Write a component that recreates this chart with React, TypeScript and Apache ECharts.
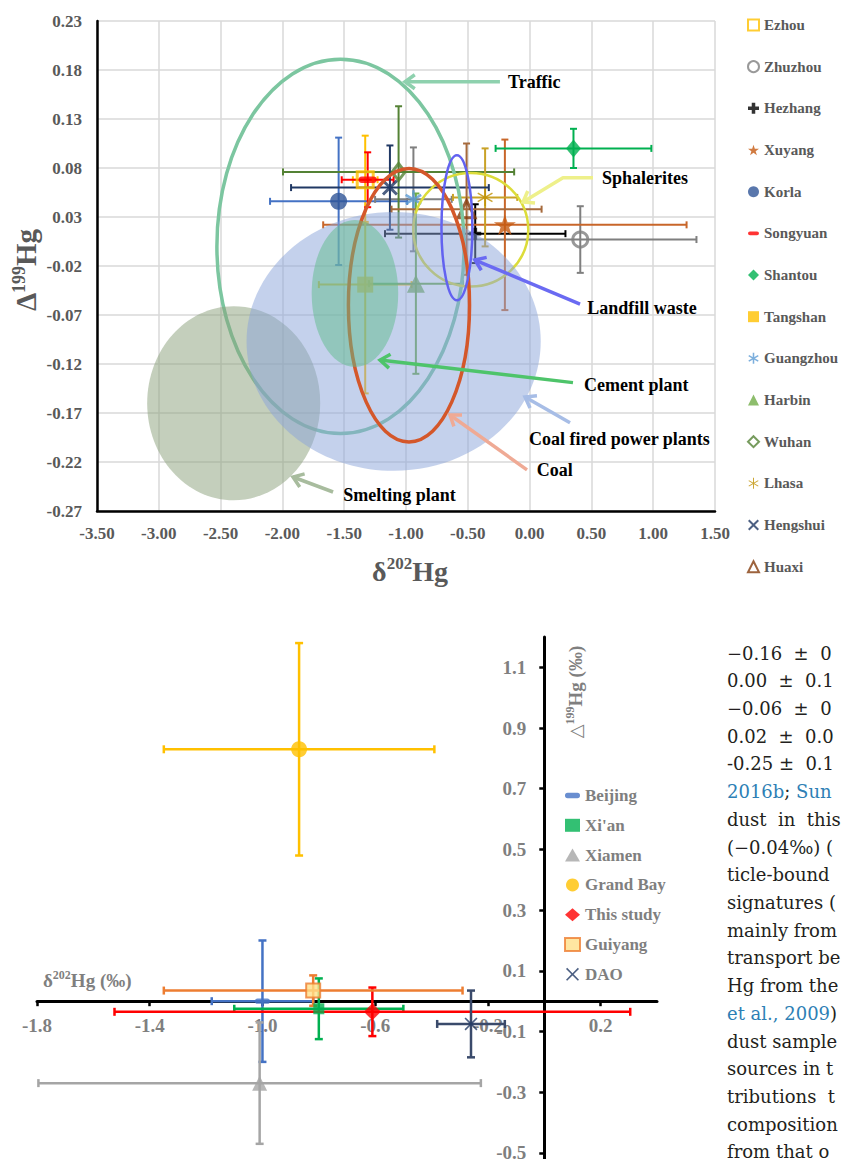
import React, { useEffect, useRef } from 'react';
import * as echarts from 'echarts';

const SERIF = '"Liberation Serif", "Times New Roman", serif';
const TEXT_SERIF = '"DejaVu Serif", serif';

// ================= Upper panel: sites =================
const topSites = ['Ezhou', 'Zhuzhou', 'Hezhang', 'Xuyang', 'Korla', 'Songyuan', 'Shantou', 'Tangshan', 'Guangzhou', 'Harbin', 'Wuhan', 'Lhasa', 'Hengshui', 'Huaxi'];
const topD202 = [-1.33, 0.41, -0.44, -0.20, -1.545, -1.31, 0.355, -1.33, -0.94, -0.92, -1.06, -0.36, -1.13, -0.51];
const topD199 = [0.068, 0.007, 0.013, 0.022, 0.046, 0.068, 0.100, -0.039, 0.048, -0.038, 0.076, 0.050, 0.060, 0.038];
const topD202Err = [0.10, 0.94, 0.73, 1.47, 0.555, 0.21, 0.63, 0.375, 0.31, 0.38, 0.935, 0.26, 0.80, 0.607];
const topD199ErrUp = [0.045, 0.034, 0.030, 0.087, 0.065, 0.028, 0.020, 0.064, 0.053, 0.092, 0.067, 0.050, 0.043, 0.067];
const topD199ErrDown = [0.045, 0.034, 0.030, 0.087, 0.065, 0.028, 0.020, 0.111, 0.053, 0.092, 0.067, 0.050, 0.043, 0.067];

// upper axes
const topXMin = -3.5;
const topXMax = 1.5;
const topXStep = 0.5;
const topYMin = -0.27;
const topYMax = 0.23;
const topYStep = 0.05;

// source fields (ellipses), in drawing order
const sourceNames = ['Traffic', 'Sphalerites', 'Smelting plant', 'Coal fired power plants', 'Coal', 'Landfill waste', 'Cement plant'];
const sourceCx = [-1.53, -0.476, -2.394, -1.10, -0.976, -0.588, -1.413];
const sourceCy = [0.0, 0.017, -0.160, -0.097, -0.060, 0.019, -0.048];
const sourceRx = [1.0, 0.465, 0.70, 1.19, 0.49, 0.125, 0.35];
const sourceRy = [0.191, 0.058, 0.099, 0.132, 0.1395, 0.074, 0.075];

// annotation labels and arrows (data coordinates)
const annoLabels = ['Traffic', 'Sphalerites', 'Landfill waste', 'Cement plant', 'Coal fired power plants', 'Coal', 'Smelting plant'];
const annoLabelAt = [[-0.175, 0.168], [0.586, 0.070], [0.467, -0.063], [0.44, -0.1414], [-0.005, -0.197], [0.057, -0.228], [-1.507, -0.2537]];
const annoArrows = [
  [[-0.24, 0.168], [-1.008, 0.168]],
  [[0.513, 0.070], [0.27, 0.070], [-0.053, 0.0453]],
  [[0.408, -0.0588], [-0.442, -0.0139]],
  [[0.351, -0.139], [-1.21, -0.116]],
  [[0.327, -0.180], [-0.037, -0.1537]],
  [[-0.021, -0.228], [-0.644, -0.172]],
  [[-1.59, -0.2506], [-1.914, -0.2353]],
];

// ================= Lower panel =================
const bottomSites = ['Beijing', "Xi'an", 'Xiamen', 'Grand Bay', 'This study', 'Guiyang', 'DAO'];
const bottomD202 = [-1.00, -0.80, -1.01, -0.87, -0.61, -0.82, -0.26];
const bottomD199 = [0.00, -0.025, -0.27, 0.83, -0.035, 0.035, -0.075];
const bottomD202Err = [0.18, 0.30, 0.785, 0.48, 0.915, 0.53, 0.12];
const bottomD199Err = [0.20, 0.10, 0.20, 0.35, 0.08, 0.05, 0.11];
const bottomXTicks = [-1.8, -1.4, -1.0, -0.6, -0.2, 0.2];
const bottomYTicks = [-0.5, -0.3, -0.1, 0.1, 0.3, 0.5, 0.7, 0.9, 1.1];
const bottomXMin = -1.8;
const bottomXMax = 0.4;
const bottomYMin = -0.52;
const bottomYMax = 1.2;

// body text beside the lower panel
const bodyLines = [
  '−0.16  ±  0',
  '0.00  ±  0.1',
  '−0.06  ±  0',
  '0.02  ±  0.0',
  '-0.25 ±  0.1',
  '{l|2016b}; {l|Sun}',
  'dust  in  this',
  '(−0.04‰) (',
  'ticle-bound',
  'signatures (',
  'mainly from',
  'transport be',
  'Hg from the',
  '{l|et al., 2009})',
  'dust sample',
  'sources in t',
  'tributions  t',
  'composition',
  'from that o',
];

// ================= Styles =================
const STAR = 'path://M50,0 L61.8,35.3 L99,35.3 L69,57.1 L80.4,92.7 L50,70.6 L19.6,92.7 L31,57.1 L1,35.3 L38.2,35.3 Z';
const PLUS = 'path://M34,0 H66 V34 H100 V66 H66 V100 H34 V66 H0 V34 H34 Z';
const DASH = 'path://M5,0 H25 A5,5 0 0 1 25,11 H5 A5,5 0 0 1 5,0 Z';
const AST = 'path://M43,0 L57,0 L57,100 L43,100 Z M10.2,81.06 L3.2,68.94 L89.8,18.94 L96.8,31.06 Z M96.8,68.94 L89.8,81.06 L3.2,31.06 L10.2,18.94 Z';
const AST_THIN = 'path://M45.5,0 L54.5,0 L54.5,100 L45.5,100 Z M8.95,78.9 L4.45,71.1 L91.05,21.1 L95.55,28.9 Z M95.55,71.1 L91.05,78.9 L4.45,28.9 L8.95,21.1 Z';
const CROSS = 'path://M0,13 L13,0 L50,37 L87,0 L100,13 L63,50 L100,87 L87,100 L50,63 L13,100 L0,87 L37,50 Z';
const CROSS_THIN = 'path://M0,9 L9,0 L50,41 L91,0 L100,9 L59,50 L100,91 L91,100 L50,59 L9,100 L0,91 L41,50 Z';

const topSymbols = ['rect', 'circle', PLUS, STAR, 'circle', DASH, 'diamond', 'rect', AST, 'triangle', 'diamond', AST_THIN, CROSS, 'triangle'];
const topSizes: any[] = [16, 15, 12, 22, 17, 18, [15, 18], 16, 18, 18, [13, 17], 17, 16, 17];
const topColors = ['#FFC000', '#808080', '#000000', '#C55A11', '#2F5597', '#FF0000', '#00B050', '#FFC000', '#5B9BD5', '#70AD47', '#548235', '#BF9000', '#203864', '#843C0C'];
const topHollow = [true, true, false, false, false, false, false, false, false, false, true, false, false, true];
const topErrColors = ['#FFC000', '#7F7F7F', '#000000', '#C8662A', '#4472C4', '#FF0000', '#00B050', '#FFC000', '#7F7F7F', '#70AD47', '#548235', '#C9A227', '#203864', '#A66A3C'];

const sourceStyles = [
  { fill: 'none', stroke: '#7CC6A0', lineWidth: 3.5 },
  { fill: 'none', stroke: '#DCDC3A', lineWidth: 2.5 },
  { fill: 'rgba(138,160,122,0.5)' },
  { fill: 'rgba(137,163,217,0.5)' },
  { fill: 'none', stroke: '#D4572A', lineWidth: 3.5 },
  { fill: 'none', stroke: '#6262F0', lineWidth: 2.5 },
  { fill: 'rgba(96,188,140,0.5)' },
];
const annoColors = ['#8ED1AE', '#EEF08A', '#6A6AF2', '#4EC46A', '#A7BDE6', '#EFAA95', '#A8BC9E'];

const bottomSymbols = [DASH, 'rect', 'triangle', 'circle', 'diamond', 'rect', CROSS_THIN];
const bottomSizes = [15, 11, 15, 16, 17, 14, 13];
const bottomColors = ['#4472C4', '#00B050', '#A5A5A5', '#FFC000', '#FF0000', '#FFE08A', '#203864'];
const bottomErrColors = ['#4472C4', '#00B050', '#A5A5A5', '#FFC000', '#FF0000', '#ED7D31', '#3A4A6B'];

// layout of panels (pixels)
const topGrid = { left: 97, top: 21, width: 618, height: 490 };
const bottomGrid = { left: 37, top: 637, width: 620, height: 522 };

function errorBarSeries(gi: number, rows: number[][], colors: string[], lw: number, cap: number, z: number) {
  return {
    type: 'custom',
    xAxisIndex: gi,
    yAxisIndex: gi,
    silent: true,
    z,
    encode: { x: 0, y: 1 },
    data: rows,
    renderItem: (params: any, api: any) => {
      const x = api.value(0), y = api.value(1), xe = api.value(2), yu = api.value(3), yd = api.value(4);
      const l = api.coord([x - xe, y]);
      const r = api.coord([x + xe, y]);
      const t = api.coord([x, y + yu]);
      const b = api.coord([x, y - yd]);
      const style = { stroke: colors[params.dataIndex], lineWidth: lw, fill: 'none' };
      const ln = (x1: number, y1: number, x2: number, y2: number) => ({ type: 'line', shape: { x1, y1, x2, y2 }, style });
      return {
        type: 'group',
        children: [
          ln(l[0], l[1], r[0], r[1]),
          ln(l[0], l[1] - cap, l[0], l[1] + cap),
          ln(r[0], r[1] - cap, r[0], r[1] + cap),
          ln(t[0], t[1], b[0], b[1]),
          ln(t[0] - cap, t[1], t[0] + cap, t[1]),
          ln(b[0] - cap, b[1], b[0] + cap, b[1]),
        ],
      };
    },
  };
}

function buildOption() {
  const axisFontTop = { fontFamily: SERIF, fontWeight: 'bold', fontSize: 17, color: '#595959' };
  const axisFontBottom = { fontFamily: SERIF, fontWeight: 'bold', fontSize: 19, color: '#7F7F7F' };

  // where the lower axes cross (zero lines), as axis offsets
  const xZeroFrac = (0 - bottomXMin) / (bottomXMax - bottomXMin);
  const yZeroFrac = (0 - bottomYMin) / (bottomYMax - bottomYMin);
  const yAxisOffset = -xZeroFrac * bottomGrid.width;
  const xAxisOffset = -yZeroFrac * bottomGrid.height;

  const series: any[] = [];
  series.push(
    errorBarSeries(
      0,
      topSites.map((_, i) => [topD202[i], topD199[i], topD202Err[i], topD199ErrUp[i], topD199ErrDown[i]]),
      topErrColors, 2, 3.5, 2,
    ),
  );
  topSites.forEach((name, i) => {
    series.push({
      type: 'scatter',
      name,
      xAxisIndex: 0,
      yAxisIndex: 0,
      silent: true,
      z: 3,
      symbol: topSymbols[i],
      symbolSize: topSizes[i],
      symbolKeepAspect: true,
      data: [[topD202[i], topD199[i]]],
      itemStyle: topHollow[i]
        ? { color: 'rgba(255,255,255,0)', borderColor: topColors[i], borderWidth: 3 }
        : { color: topColors[i] },
    });
  });
  series.push({
    type: 'custom',
    xAxisIndex: 0,
    yAxisIndex: 0,
    silent: true,
    z: 4,
    encode: { x: 0, y: 1 },
    data: sourceNames.map((_, i) => [sourceCx[i], sourceCy[i], sourceRx[i], sourceRy[i]]),
    renderItem: (params: any, api: any) => {
      const c = api.coord([api.value(0), api.value(1)]);
      const s = api.size([api.value(2), api.value(3)]);
      return { type: 'ellipse', shape: { cx: c[0], cy: c[1], rx: s[0], ry: s[1] }, style: sourceStyles[params.dataIndex] };
    },
  });

  series.push(
    errorBarSeries(
      1,
      bottomSites.map((_, i) => [bottomD202[i], bottomD199[i], bottomD202Err[i], bottomD199Err[i], bottomD199Err[i]]),
      bottomErrColors, 2.5, 4, 2,
    ),
  );
  bottomSites.forEach((name, i) => {
    series.push({
      type: 'scatter',
      name,
      xAxisIndex: 1,
      yAxisIndex: 1,
      silent: true,
      z: 3,
      symbol: bottomSymbols[i],
      symbolSize: bottomSizes[i],
      symbolKeepAspect: true,
      data: [[bottomD202[i], bottomD199[i]]],
      itemStyle: name === 'Guiyang'
        ? { color: bottomColors[i], borderColor: '#ED7D31', borderWidth: 2 }
        : { color: bottomColors[i] },
    });
  });

  return {
    animation: false,
    backgroundColor: '#ffffff',
    textStyle: { fontFamily: SERIF },
    grid: [
      { ...topGrid, outerBoundsMode: 'none', containLabel: false },
      { ...bottomGrid, outerBoundsMode: 'none', containLabel: false },
    ],
    xAxis: [
      {
        gridIndex: 0, type: 'value', min: topXMin, max: topXMax, interval: topXStep,
        axisLine: { onZero: false, lineStyle: { color: '#000', width: 2.5 } },
        axisTick: { show: false },
        axisLabel: { ...axisFontTop, margin: 14, formatter: (v: number) => v.toFixed(2) },
        splitLine: { show: true, lineStyle: { color: '#D9D9D9', width: 1.5 } },
      },
      {
        gridIndex: 1, type: 'value', min: bottomXMin, max: bottomXMax,
        position: 'bottom', offset: xAxisOffset,
        axisLine: { onZero: false, lineStyle: { color: '#000', width: 3 } },
        axisTick: { show: true, length: 5, lineStyle: { color: '#000', width: 2.5 }, customValues: bottomXTicks },
        axisLabel: { ...axisFontBottom, margin: 15, customValues: bottomXTicks, formatter: (v: number) => v.toFixed(1) },
        splitLine: { show: false },
      },
    ],
    yAxis: [
      {
        gridIndex: 0, type: 'value', min: topYMin, max: topYMax, interval: topYStep,
        axisLine: { show: true, onZero: false, lineStyle: { color: '#000', width: 2.5 } },
        axisTick: { show: false },
        axisLabel: { ...axisFontTop, margin: 15, formatter: (v: number) => v.toFixed(2) },
        splitLine: { show: true, lineStyle: { color: '#D9D9D9', width: 1.5 } },
      },
      {
        gridIndex: 1, type: 'value', min: bottomYMin, max: bottomYMax,
        position: 'left', offset: yAxisOffset,
        axisLine: { show: true, onZero: false, lineStyle: { color: '#000', width: 3 } },
        axisTick: { show: true, length: 5, lineStyle: { color: '#000', width: 2.5 }, customValues: bottomYTicks },
        axisLabel: { ...axisFontBottom, margin: 18, customValues: bottomYTicks, formatter: (v: number) => v.toFixed(1) },
        splitLine: { show: false },
      },
    ],
    legend: [
      {
        data: topSites,
        orient: 'vertical',
        left: 742,
        top: 12,
        itemWidth: 11,
        itemHeight: 11,
        itemGap: 25.67,
        selectedMode: false,
        textStyle: { fontFamily: SERIF, fontWeight: 'bold', fontSize: 15, color: '#595959', lineHeight: 16 },
      },
      {
        data: bottomSites,
        orient: 'vertical',
        left: 559,
        top: 782,
        itemWidth: 15,
        itemHeight: 13,
        itemGap: 12.8,
        selectedMode: false,
        textStyle: { fontFamily: SERIF, fontWeight: 'bold', fontSize: 17, color: '#7F7F7F', lineHeight: 16 },
      },
    ],
    series,
  };
}

function arrowEls(pts: number[][], color: string) {
  const els: any[] = [];
  els.push({ type: 'polyline', silent: true, z: 10, shape: { points: pts }, style: { stroke: color, lineWidth: 3.5, fill: 'none', lineJoin: 'round' } });
  const t = pts[pts.length - 1];
  const p = pts[pts.length - 2];
  const dx = t[0] - p[0];
  const dy = t[1] - p[1];
  const len = Math.hypot(dx, dy) || 1;
  const ux = dx / len, uy = dy / len;
  const L = 12, a = 0.62;
  const rot = (ang: number) => [t[0] - L * (ux * Math.cos(ang) - uy * Math.sin(ang)), t[1] - L * (ux * Math.sin(ang) + uy * Math.cos(ang))];
  els.push({ type: 'polyline', silent: true, z: 10, shape: { points: [rot(a), t, rot(-a)] }, style: { stroke: color, lineWidth: 3.5, fill: 'none', lineJoin: 'miter' } });
  return els;
}

function buildGraphics(chart: any) {
  const toPx = (p: number[]) => chart.convertToPixel({ xAxisIndex: 0, yAxisIndex: 0 }, p) as number[];
  const toPxB = (p: number[]) => chart.convertToPixel({ xAxisIndex: 1, yAxisIndex: 1 }, p) as number[];
  const els: any[] = [];
  annoLabels.forEach((label, i) => {
    els.push(...arrowEls(annoArrows[i].map(toPx), annoColors[i]));
    const at = toPx(annoLabelAt[i]);
    els.push({
      type: 'text', silent: true, z: 11, x: at[0], y: at[1],
      style: { text: label, fontFamily: SERIF, fontWeight: 'bold', fontSize: 18, fill: '#000', align: 'left', verticalAlign: 'middle' },
    });
  });

  const grayTop = '#595959';
  const grayBottom = '#7F7F7F';
  // upper axis titles
  els.push({
    type: 'text', silent: true, z: 11, x: 410, y: 571,
    style: {
      text: '{m|δ}{s|202}{m|Hg}', align: 'center', verticalAlign: 'middle',
      rich: {
        m: { fontFamily: SERIF, fontWeight: 'bold', fontSize: 28, fill: grayTop, lineHeight: 32 },
        s: { fontFamily: SERIF, fontWeight: 'bold', fontSize: 17, fill: grayTop, lineHeight: 18, verticalAlign: 'top' },
      },
    },
  });
  els.push({
    type: 'text', silent: true, z: 11, x: 26, y: 270, rotation: Math.PI / 2,
    style: {
      text: '{m|Δ}{s|199}{m|Hg}', align: 'center', verticalAlign: 'middle',
      rich: {
        m: { fontFamily: SERIF, fontWeight: 'bold', fontSize: 29, fill: grayTop, lineHeight: 32 },
        s: { fontFamily: SERIF, fontWeight: 'bold', fontSize: 18, fill: grayTop, lineHeight: 18, verticalAlign: 'top' },
      },
    },
  });
  // lower axis titles, placed relative to the zero lines
  const origin = toPxB([0, 0]);
  els.push({
    type: 'text', silent: true, z: 11, x: 43, y: origin[1] - 21,
    style: {
      text: '{m|δ}{s|202}{m|Hg (‰)}', align: 'left', verticalAlign: 'middle',
      rich: {
        m: { fontFamily: SERIF, fontWeight: 'bold', fontSize: 19, fill: grayBottom, lineHeight: 22 },
        s: { fontFamily: SERIF, fontWeight: 'bold', fontSize: 12, fill: grayBottom, lineHeight: 13, verticalAlign: 'top' },
      },
    },
  });
  els.push({
    type: 'text', silent: true, z: 11, x: origin[0] + 31, y: 692, rotation: Math.PI / 2,
    style: {
      text: '{t|△}{s|199}{m|Hg (‰)}', align: 'center', verticalAlign: 'middle',
      rich: {
        t: { fontFamily: TEXT_SERIF, fontSize: 18, fill: grayBottom, lineHeight: 22 },
        m: { fontFamily: SERIF, fontWeight: 'bold', fontSize: 19, fill: grayBottom, lineHeight: 22 },
        s: { fontFamily: SERIF, fontWeight: 'bold', fontSize: 12, fill: grayBottom, lineHeight: 13, verticalAlign: 'top' },
      },
    },
  });

  // body text column
  bodyLines.forEach((line, i) => {
    els.push({
      type: 'text', silent: true, z: 11, x: 727, y: 653 + i * 27.72,
      style: {
        text: line, fontFamily: TEXT_SERIF, fontSize: 18, fill: '#231F20', align: 'left', verticalAlign: 'middle',
        rich: { l: { fontFamily: TEXT_SERIF, fontSize: 18, fill: '#2E7FB5' } },
      },
    });
  });
  return els;
}

export default function App() {
  const ref = useRef<HTMLDivElement>(null);
  useEffect(() => {
    if (!ref.current) return;
    const chart = echarts.init(ref.current, null, { renderer: 'svg', width: 841, height: 1159 });
    chart.setOption(buildOption() as any);
    chart.setOption({ graphic: buildGraphics(chart) } as any);
    return () => chart.dispose();
  }, []);
  return (
    <div
      ref={ref}
      style={{ position: 'absolute', left: 0, top: 0, width: 841, height: 1159, background: '#fff' }}
    />
  );
}
